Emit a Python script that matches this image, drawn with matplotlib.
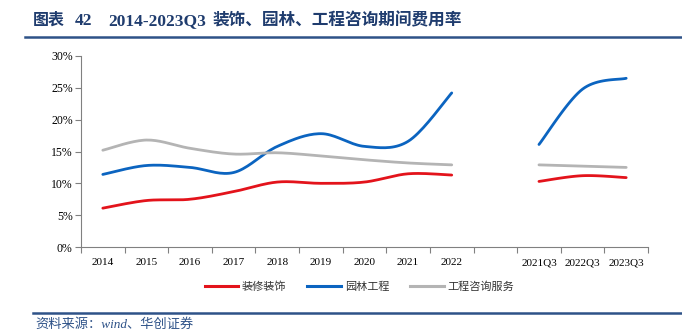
import numpy as np
import matplotlib
matplotlib.use("Agg")
import matplotlib.pyplot as plt
from matplotlib.lines import Line2D

plt.rcParams['font.family'] = ['Liberation Serif', 'Noto Sans CJK SC']

# categories, with an empty slot separating annual and Q3 figures
categories = ['2014', '2015', '2016', '2017', '2018', '2019', '2020', '2021', '2022',
              '', '2021Q3', '2022Q3', '2023Q3']
decoration = [6.1, 7.3, 7.5, 8.7, 10.2, 10.0, 10.2, 11.5, 11.3, None, 10.3, 11.2, 10.9]
landscape = [11.4, 12.8, 12.5, 11.7, 15.8, 17.8, 15.8, 16.6, 24.2, None, 16.1, 24.8, 26.5]
consulting = [15.2, 16.8, 15.5, 14.6, 14.8, 14.3, 13.7, 13.2, 12.9, None, 12.9, 12.7, 12.5]

series_names = ['装修装饰', '园林工程', '工程咨询服务']
series_colors = ['#E3131B', '#0B64C0', '#B4B4B4']


def smooth(xs, ys, steps=20):
    # Catmull-Rom curve through the points (like Excel's smoothed line)
    xs = np.asarray(xs, float)
    ys = np.asarray(ys, float)
    if len(xs) < 3:
        return xs, ys
    px = np.concatenate([[xs[0]], xs, [xs[-1]]])
    py = np.concatenate([[ys[0]], ys, [ys[-1]]])
    outx, outy = [], []
    t = np.linspace(0, 1, steps)
    for i in range(1, len(px) - 2):
        for p, out in ((px, outx), (py, outy)):
            p0, p1, p2, p3 = p[i - 1], p[i], p[i + 1], p[i + 2]
            m1 = (p2 - p0) / 2
            m2 = (p3 - p1) / 2
            h00 = 2 * t**3 - 3 * t**2 + 1
            h10 = t**3 - 2 * t**2 + t
            h01 = -2 * t**3 + 3 * t**2
            h11 = t**3 - t**2
            out.extend(h00 * p1 + h10 * m1 + h01 * p2 + h11 * m2)
    return np.array(outx), np.array(outy)


fig = plt.figure(figsize=(6.82, 3.36), dpi=100)
ax = fig.add_axes([81 / 682, 1 - 247 / 336, 567 / 682, 191 / 336])

x = np.arange(len(categories))
for vals, name, color in zip([decoration, landscape, consulting], series_names, series_colors):
    # split into runs where data exists
    run_x, run_y = [], []
    for xi, v in list(zip(x, vals)) + [(None, None)]:
        if v is None:
            if run_x:
                sx, sy = smooth(run_x, run_y)
                ax.plot(sx, sy, color=color, lw=2.0, solid_capstyle='round')
            run_x, run_y = [], []
        else:
            run_x.append(xi)
            run_y.append(v)

ax.set_xlim(-0.5, len(categories) - 0.5)
ax.set_ylim(0, 30)
ax.set_yticks(np.arange(0, 31, 5))
ax.set_yticklabels([f'{v}%' for v in range(0, 31, 5)])
ax.set_xticks(x)
ax.set_xticklabels(categories)
ax.set_xticks(np.arange(-0.5, len(categories), 1), minor=True)
ax.tick_params(axis='x', which='major', length=0, pad=8, labelsize=8)
ax.tick_params(axis='x', which='minor', length=4, color='#808080', width=0.8)
ax.tick_params(axis='y', length=4, color='#808080', width=0.8, labelsize=8.5, pad=2)
for s in ['top', 'right']:
    ax.spines[s].set_visible(False)
for s in ['left', 'bottom']:
    ax.spines[s].set_color('#808080')
    ax.spines[s].set_linewidth(0.8)

handles = [Line2D([], [], color=c, lw=2.2) for c in series_colors]
fig.legend(handles, series_names, loc='center', bbox_to_anchor=(0.527, 1 - 287 / 336),
           ncol=3, frameon=False, fontsize=8, handlelength=3.0, columnspacing=1.9,
           handletextpad=0.35, labelcolor='#333333')

# title in pieces: label, number, period, subject
title_color = '#1F3C6E'
ty = 1 - 21 / 336
title_parts = [(33, '图表', 11.5), (75, '42', 12.5), (108, '2014-2023Q3', 12.5),
               (213, '装饰、园林、工程咨询期间费用率', 12)]
for px, txt, size in title_parts:
    fig.text(px / 682, ty, txt, fontsize=size, fontweight='bold',
             color=title_color, va='center', ha='left')
fig.add_artist(Line2D([25 / 682, 1.0], [1 - 37 / 336] * 2, color='#2E5288', lw=1.8))
fig.add_artist(Line2D([33 / 682, 1.0], [1 - 313 / 336] * 2, color='#2E5288', lw=1.8))
fig.text(35 / 682, 1 - 325 / 336, '资料来源：wind、华创证券', fontsize=9.5, style='italic',
         color='#2E5288', va='center', ha='left')

fig.savefig('out.png', dpi=100)
